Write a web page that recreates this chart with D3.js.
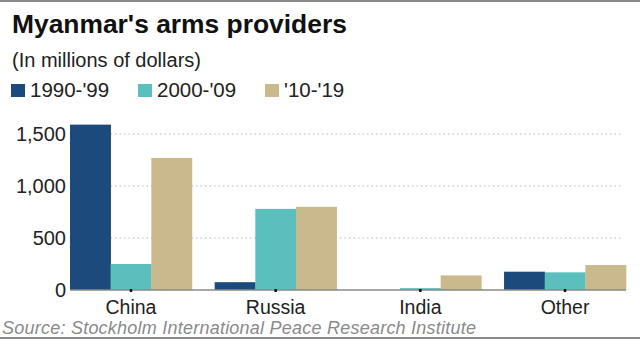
<!DOCTYPE html>
<html><head><meta charset="utf-8">
<script src="https://cdn.jsdelivr.net/npm/d3@7"></script>
<style>
html,body{margin:0;padding:0;background:#fff;}
svg{display:block;font-family:"Liberation Sans",Arial,sans-serif;}
</style></head>
<body>
<svg id="c" width="640" height="341"></svg>
<script>
const categories = ["China", "Russia", "India", "Other"];
const seriesNames = ["1990-'99", "2000-'09", "'10-'19"];
const values1990s = [1590, 75, 0, 176];
const values2000s = [250, 780, 18, 170];
const values2010s = [1270, 800, 140, 240];
const yTicks = [0, 500, 1000, 1500];
const colors = ["#1c4a7c", "#5bbfbd", "#c9b98c"];

const seriesValues = [values1990s, values2000s, values2010s];
const svg = d3.select("#c");

// frame lines
svg.append("rect").attr("x",0).attr("y",0).attr("width",640).attr("height",2).attr("fill","#8a8a8a");
svg.append("rect").attr("x",0).attr("y",337).attr("width",640).attr("height",2).attr("fill","#8a8a8a");

svg.append("text").attr("x",12).attr("y",33).attr("font-size",26.4).attr("font-weight","bold").attr("fill","#111")
  .text("Myanmar's arms providers");
svg.append("text").attr("x",12).attr("y",67).attr("font-size",20).attr("fill","#222")
  .text("(In millions of dollars)");

const legendX = [11, 138, 265];
const lg = svg.append("g");
seriesNames.forEach((s,i)=>{
  lg.append("rect").attr("x",legendX[i]).attr("y",84).attr("width",14).attr("height",13).attr("fill",colors[i]);
  lg.append("text").attr("x",legendX[i]+19).attr("y",97).attr("font-size",20.5).attr("fill","#222").text(s);
});

const y = d3.scaleLinear().domain([0,1500]).range([290,134]);
const x0 = d3.scaleBand().domain(categories).range([58.7,637.3]).paddingInner(0.157).paddingOuter(0.078);
const x1 = d3.scaleBand().domain(d3.range(3)).range([0,x0.bandwidth()]);

// gridlines
const grid = svg.append("g");
yTicks.filter(t=>t>0).forEach(t=>{
  grid.append("line").attr("x1",70).attr("x2",622).attr("y1",y(t)).attr("y2",y(t))
    .attr("stroke","#b8b8b8").attr("stroke-width",1).attr("stroke-dasharray","1.5,3");
});

// y labels
const yAxis = d3.axisLeft(y).tickValues(yTicks).tickSize(0).tickPadding(0).tickFormat(d3.format(","));
const ya = svg.append("g").attr("transform","translate(66,0)").call(yAxis);
ya.select(".domain").remove();
ya.selectAll("text").attr("font-size",20).attr("fill","#222").attr("font-family","Liberation Sans, Arial, sans-serif");

// bars
const groups = svg.append("g").selectAll("g").data(categories).join("g")
  .attr("transform",d=>`translate(${x0(d)},0)`);
groups.selectAll("rect").data((d,ci)=>seriesValues.map((arr,si)=>({si, v:arr[ci]}))).join("rect")
  .attr("x",d=>x1(d.si)).attr("width",x1.bandwidth()+0.3)
  .attr("y",d=>y(d.v)).attr("height",d=>y(0)-y(d.v))
  .attr("fill",d=>colors[d.si]);

// baseline
svg.append("line").attr("x1",70).attr("x2",626).attr("y1",290).attr("y2",290).attr("stroke","#8a8a8a").attr("stroke-width",1.5);

// x axis
const xAxis = d3.axisBottom(x0).tickSize(3).tickPadding(8);
const xa = svg.append("g").attr("transform","translate(0,289)").call(xAxis);
xa.select(".domain").remove();
xa.selectAll(".tick line").attr("stroke","#111").attr("stroke-width",2.5);
xa.selectAll("text").attr("font-size",19.5).attr("fill","#222").attr("font-family","Liberation Sans, Arial, sans-serif");

svg.append("text").attr("x",2).attr("y",334).attr("font-size",18).attr("font-style","italic").attr("fill","#8a8a8a")
  .attr("textLength",474).attr("lengthAdjust","spacing")
  .text("Source: Stockholm International Peace Research Institute");
</script>
</body></html>
